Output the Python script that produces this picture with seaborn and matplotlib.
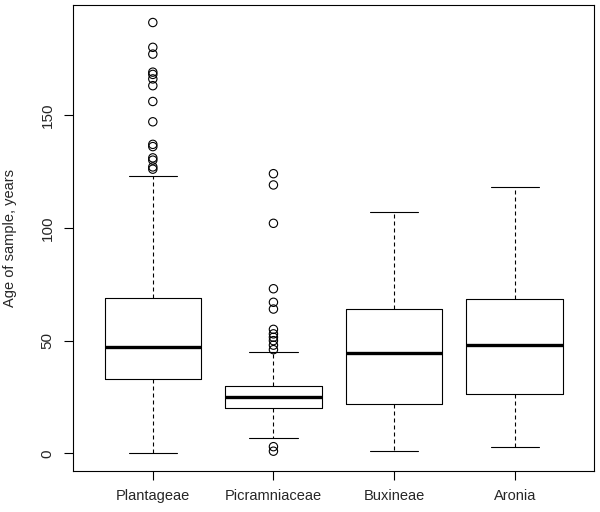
import pandas as pd
import seaborn as sns
import matplotlib
matplotlib.use('Agg')
import matplotlib.pyplot as plt

# box summaries (whisker ends, quartiles, median)
groups = ['Plantageae', 'Picramniaceae', 'Buxineae', 'Aronia']
whisker_low = [0, 7, 1, 3]
q1 = [33, 20, 22, 26.5]
median = [47, 25, 44.5, 48]
q3 = [69, 30, 64, 68.5]
whisker_high = [123, 45, 107, 118]

# outlying samples
out_plantageae = [191, 180, 177, 169, 168, 166, 163, 156, 147, 137, 136, 131, 130, 127, 126]
out_picramniaceae = [124, 119, 102, 73, 67, 64, 55, 53, 51.5, 50, 48, 46, 3, 1]
out_buxineae = []
out_aronia = []

y_ticks = [0, 50, 100, 150]

# five-number table per group -> exact quartiles in seaborn
rows = []
for i, g in enumerate(groups):
    for v in [whisker_low[i], q1[i], median[i], q3[i], whisker_high[i]]:
        rows.append({'group': g, 'age': v})
box_df = pd.DataFrame(rows)

outliers = {'Plantageae': out_plantageae, 'Picramniaceae': out_picramniaceae,
            'Buxineae': out_buxineae, 'Aronia': out_aronia}
out_df = pd.DataFrame([{'group': g, 'age': v} for g in groups for v in outliers[g]])

sns.set_style('ticks')
plt.rcParams['font.family'] = ['Liberation Sans', 'DejaVu Sans']
plt.rcParams['font.size'] = 10.5

fig = plt.figure(figsize=(6, 5.12), dpi=100)
ax = fig.add_axes([0.122, 0.0807, 0.8685, 0.909])

lw = 0.8
sns.boxplot(data=box_df, x='group', y='age', order=groups, ax=ax,
            whis=(0, 100), width=0.8, fill=False, color='black', linecolor='black',
            linewidth=lw,
            medianprops={'linewidth': 2.4, 'color': 'black', 'solid_capstyle': 'butt'},
            whiskerprops={'linestyle': (0, (3.6, 2.7)), 'linewidth': lw},
            capprops={'linewidth': lw})

sns.stripplot(data=out_df, x='group', y='age', order=groups, ax=ax,
              jitter=False, color='black', size=6, marker='o', linewidth=lw)
for coll in ax.collections:
    coll.set_facecolor('none')
    coll.set_edgecolor('black')
    coll.set_linewidth(lw)

ax.set_xlim(-0.66, 3.66)
ax.set_ylim(-7.64, 198.64)
ax.set_yticks(y_ticks)
ax.set_yticklabels([str(t) for t in y_ticks], rotation=90, va='center')
ax.set_xlabel('')
ax.set_ylabel('Age of sample, years', fontsize=10.5)
ax.yaxis.set_label_coords(-0.107, 0.5)
ax.tick_params(axis='both', direction='out', length=6.5, width=lw, color='black',
               labelsize=11, pad=7)
ax.tick_params(axis='x', labelsize=10.5)
for s in ax.spines.values():
    s.set_visible(True)
    s.set_linewidth(lw)
    s.set_color('black')

fig.savefig('out.png', dpi=100)
